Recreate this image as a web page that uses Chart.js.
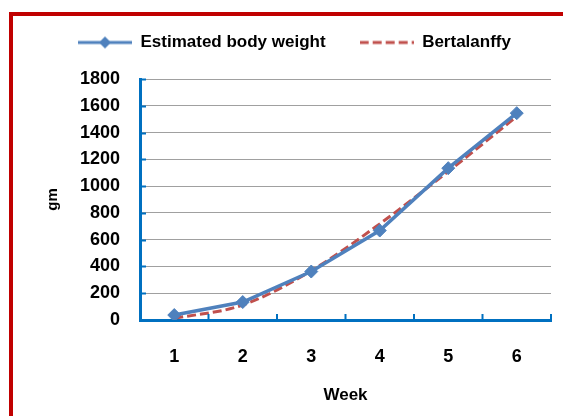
<!DOCTYPE html>
<html><head><meta charset="utf-8">
<script src="https://cdn.jsdelivr.net/npm/chart.js@4"></script>
<style>
html,body{margin:0;padding:0;background:#fff;overflow:hidden;}
#frame{position:absolute;left:9px;top:12px;width:550px;height:400px;border-left:4px solid #C00000;border-top:4px solid #C00000;}
#wrap{position:absolute;left:0;top:0;width:563px;height:416px;}
</style></head><body>
<div id="frame"></div>
<div id="wrap"><canvas id="c" width="563" height="416"></canvas></div>
<script>
const weeks = ['1', '2', '3', '4', '5', '6'];
const estimatedWeight = [37, 134, 362, 668, 1134, 1545];
const bertalanffy = [12, 112, 368, 718, 1110, 1520];
const yTicks = [0, 200, 400, 600, 800, 1000, 1200, 1400, 1600, 1800];

const BLUE = '#4F81BD', RED = '#C0504D', AXIS = '#0070C0';

function legendSymbol(kind) {
  const cv = document.createElement('canvas');
  cv.width = 54; cv.height = 14;
  const g = cv.getContext('2d');
  g.lineWidth = 3;
  if (kind === 'blue') {
    g.strokeStyle = BLUE;
    g.beginPath(); g.moveTo(0, 7); g.lineTo(54, 7); g.stroke();
    g.fillStyle = BLUE;
    g.beginPath(); g.moveTo(27, 1); g.lineTo(33, 7); g.lineTo(27, 13); g.lineTo(21, 7); g.closePath(); g.fill();
  } else {
    g.strokeStyle = RED;
    g.setLineDash([9, 4]);
    g.beginPath(); g.moveTo(0, 7); g.lineTo(54, 7); g.stroke();
  }
  return cv;
}
const symbols = [legendSymbol('blue'), legendSymbol('red')];

const innerTicks = {
  id: 'innerTicks',
  afterDraw(chart) {
    const ctx = chart.ctx, x = chart.scales.x, y = chart.scales.y;
    const area = chart.chartArea;
    ctx.save();
    ctx.strokeStyle = AXIS;
    ctx.lineWidth = 2;
    ctx.beginPath();
    yTicks.forEach(v => {
      const py = Math.round(y.getPixelForValue(v)) + 0.5;
      ctx.moveTo(area.left, py); ctx.lineTo(area.left + 6, py);
    });
    for (let k = 0; k < weeks.length; k++) {
      const px = x.getPixelForValue(k + 0.5);
      ctx.moveTo(px, area.bottom); ctx.lineTo(px, area.bottom - 6);
    }
    ctx.stroke();
    ctx.restore();
  }
};

const legendHeight = {
  id: 'legendHeight',
  beforeInit(chart) {
    const orig = chart.legend.fit;
    chart.legend.fit = function () { orig.call(this); this.height = 79; };
  }
};

new Chart(document.getElementById('c'), {
  type: 'line',
  data: {
    labels: weeks,
    datasets: [
      {
        label: 'Estimated body weight',
        data: estimatedWeight,
        borderColor: BLUE,
        backgroundColor: BLUE,
        borderWidth: 3.5,
        pointStyle: 'rectRot',
        pointRadius: 6.5,
        pointBorderWidth: 1,
        tension: 0
      },
      {
        label: 'Bertalanffy',
        data: bertalanffy,
        borderColor: RED,
        backgroundColor: RED,
        borderWidth: 3,
        borderDash: [9, 4],
        pointRadius: 0,
        cubicInterpolationMode: 'monotone'
      }
    ]
  },
  options: {
    responsive: false,
    animation: false,
    devicePixelRatio: 1,
    layout: { padding: { left: 44, right: 12, top: 0, bottom: 10 } },
    plugins: {
      tooltip: { enabled: false },
      legend: {
        position: 'top',
        align: 'start',
        labels: {
          usePointStyle: true,
          pointStyleWidth: 54,
          padding: 34,
          color: '#000',
          font: { family: 'Liberation Sans, Arial, sans-serif', size: 17, weight: 'bold' },
          generateLabels(chart) {
            return chart.data.datasets.map((ds, i) => ({
              text: ds.label,
              pointStyle: symbols[i],
              fillStyle: ds.borderColor,
              strokeStyle: ds.borderColor,
              lineWidth: 0,
              hidden: false,
              datasetIndex: i
            }));
          }
        }
      }
    },
    scales: {
      x: {
        type: 'category',
        offset: true,
        grid: { display: false, drawTicks: false },
        border: { color: AXIS, width: 3 },
        ticks: { color: '#000', padding: 26, font: { family: 'Liberation Sans, Arial, sans-serif', size: 18, weight: 'bold' } },
        title: { display: true, text: 'Week', color: '#000', padding: 0, font: { family: 'Liberation Sans, Arial, sans-serif', size: 17, weight: 'bold' } },
        afterFit(s) { s.height = 86; }
      },
      y: {
        min: 0, max: 1800,
        afterBuildTicks(s) { s.ticks = yTicks.map(v => ({ value: v })); },
        grid: { color: '#A0A0A0', lineWidth: 1, drawTicks: false },
        border: { color: AXIS, width: 3 },
        ticks: { color: '#000', padding: 20, callback: v => String(v), font: { family: 'Liberation Sans, Arial, sans-serif', size: 18, weight: 'bold' } },
        title: { display: true, text: 'gm', color: '#000', padding: 0, font: { family: 'Liberation Sans, Arial, sans-serif', size: 15, weight: 'bold' } },
        afterFit(s) { s.width = 96; }
      }
    }
  },
  plugins: [innerTicks, legendHeight]
});
</script>
</body></html>
